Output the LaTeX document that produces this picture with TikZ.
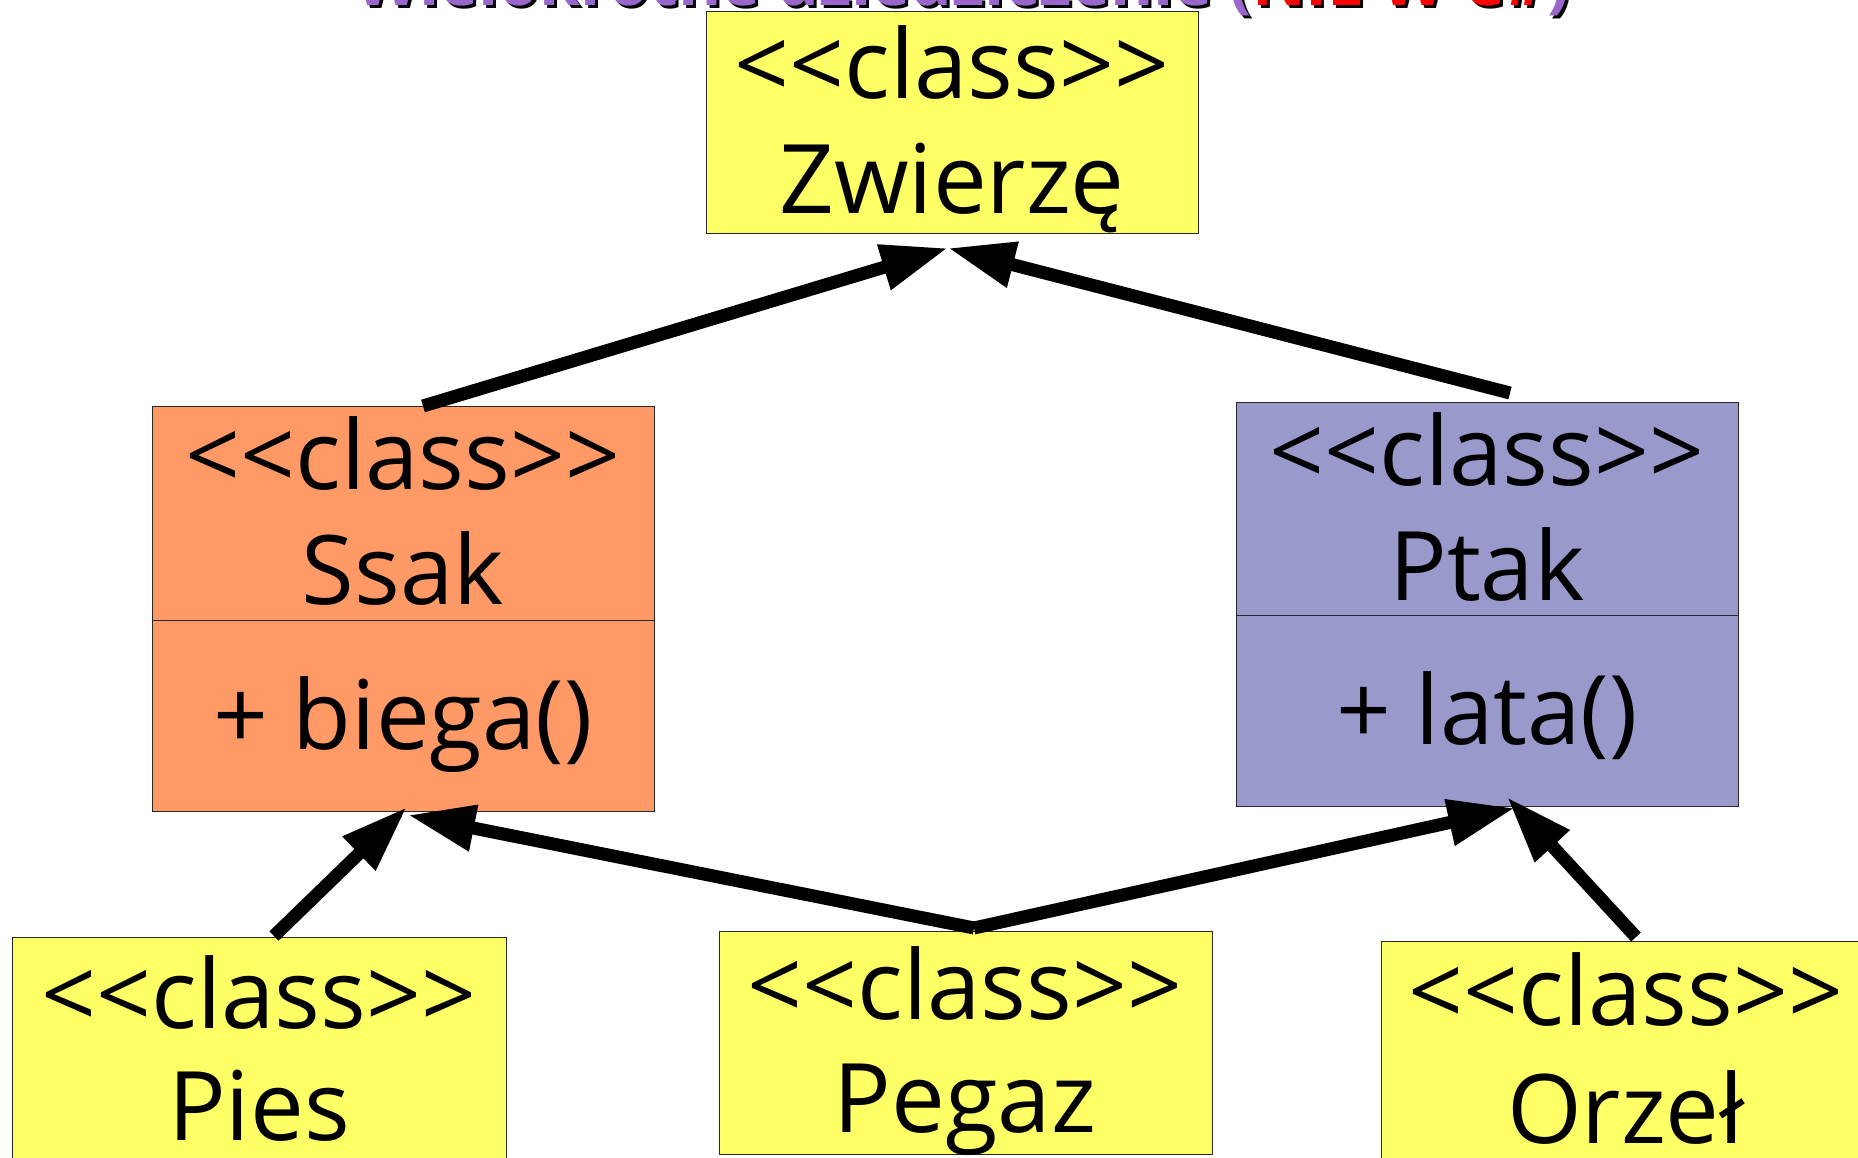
\documentclass[tikz,border=0pt]{standalone}
\usepackage{fontspec}
\setmainfont{Open Sans}[Ligatures=NoCommon]
\usetikzlibrary{arrows.meta}
\definecolor{ylw}{RGB}{255,255,102}
\definecolor{org}{RGB}{255,153,102}
\definecolor{lav}{RGB}{153,153,204}
\definecolor{ttl}{RGB}{153,102,204}
\definecolor{bord}{RGB}{40,40,40}
\newcommand{\stereo}{<{}<class>{}>}
\begin{document}
\begin{tikzpicture}[x=0.5pt,y=-0.5pt,
  box/.style={draw=bord, line width=0.6pt, anchor=north west, inner sep=0pt, minimum width=#1},
  txt/.style={anchor=base, inner sep=0pt, font=\fontsize{48}{56}\selectfont},
  ttlfont/.style={anchor=base west, inner sep=0pt, font=\bfseries\fontsize{33}{36}\selectfont},
  arr/.style={line width=6.5pt, -{Triangle[length=33.5pt,width=22pt]}}]
\useasboundingbox (0,0) rectangle (1858,1157);
% title (mostly outside the picture)
\node[ttlfont, text=black] (titleshadow) at (358,8) {Wielokrotne dziedziczenie (NIE W C\#)};
\node[ttlfont, text=ttl] (title) at (355,5) {Wielokrotne dziedziczenie ({\color{red}NIE W C\#})};
% boxes
\node[box=246pt, minimum height=111pt, fill=ylw] (zw) at (706,11) {};
\node[box=251pt, minimum height=107pt, fill=org] (ssak) at (152,406) {};
\node[box=251pt, minimum height=95.5pt, fill=org] (ssakm) at (152,620) {};
\node[box=251pt, minimum height=106.5pt, fill=lav] (ptak) at (1236,402) {};
\node[box=251pt, minimum height=95.5pt, fill=lav] (ptakm) at (1236,615) {};
\node[box=247pt, minimum height=115pt, fill=ylw] (pies) at (12,937) {};
\node[box=246.5pt, minimum height=111.5pt, fill=ylw] (pegaz) at (719,931) {};
\node[box=245pt, minimum height=115pt, fill=ylw] (orzel) at (1381,941) {};
% texts
\node[txt] (zw1) at (952,98) {\stereo};
\node[txt] (zw2) at (952,213) {Zwierzę};
\node[txt] (ss1) at (403,489) {\stereo};
\node[txt] (ss2) at (403,604) {Ssak};
\node[txt] (ss3) at (403,749) {+ biega()};
\node[txt] (pt1) at (1487,485) {\stereo};
\node[txt] (pt2) at (1487,600) {Ptak};
\node[txt] (pt3) at (1487,744) {+ lata()};
\node[txt] (pi1) at (259,1028) {\stereo};
\node[txt] (pi2) at (259,1140) {Pies};
\node[txt] (pe1) at (965,1019) {\stereo};
\node[txt] (pe2) at (965,1132) {Pegaz};
\node[txt] (or1) at (1626,1025) {\stereo};
\node[txt] (or2) at (1626,1143) {Orzeł};
% connector end points
\coordinate (zwtip) at (948,248);
\coordinate (ssakout) at (423,406);
\coordinate (ptakout) at (1510,393);
\coordinate (piesout) at (274,936);
\coordinate (pegazout) at (974,928);
\coordinate (orzelout) at (1636,937);
\coordinate (ssaktipA) at (407,807);
\coordinate (ssaktipB) at (408,815);
\coordinate (ptaktipA) at (1515,808);
\coordinate (ptaktipB) at (1507,797);
% connectors
\draw[arr] (ssakout) -- (zwtip);
\draw[arr] (ptakout) -- (zwtip);
\draw[arr] (piesout) -- (ssaktipA);
\draw[arr] (pegazout) -- (ssaktipB);
\draw[arr] (pegazout) -- (ptaktipA);
\draw[arr] (orzelout) -- (ptaktipB);
\end{tikzpicture}
\end{document}
